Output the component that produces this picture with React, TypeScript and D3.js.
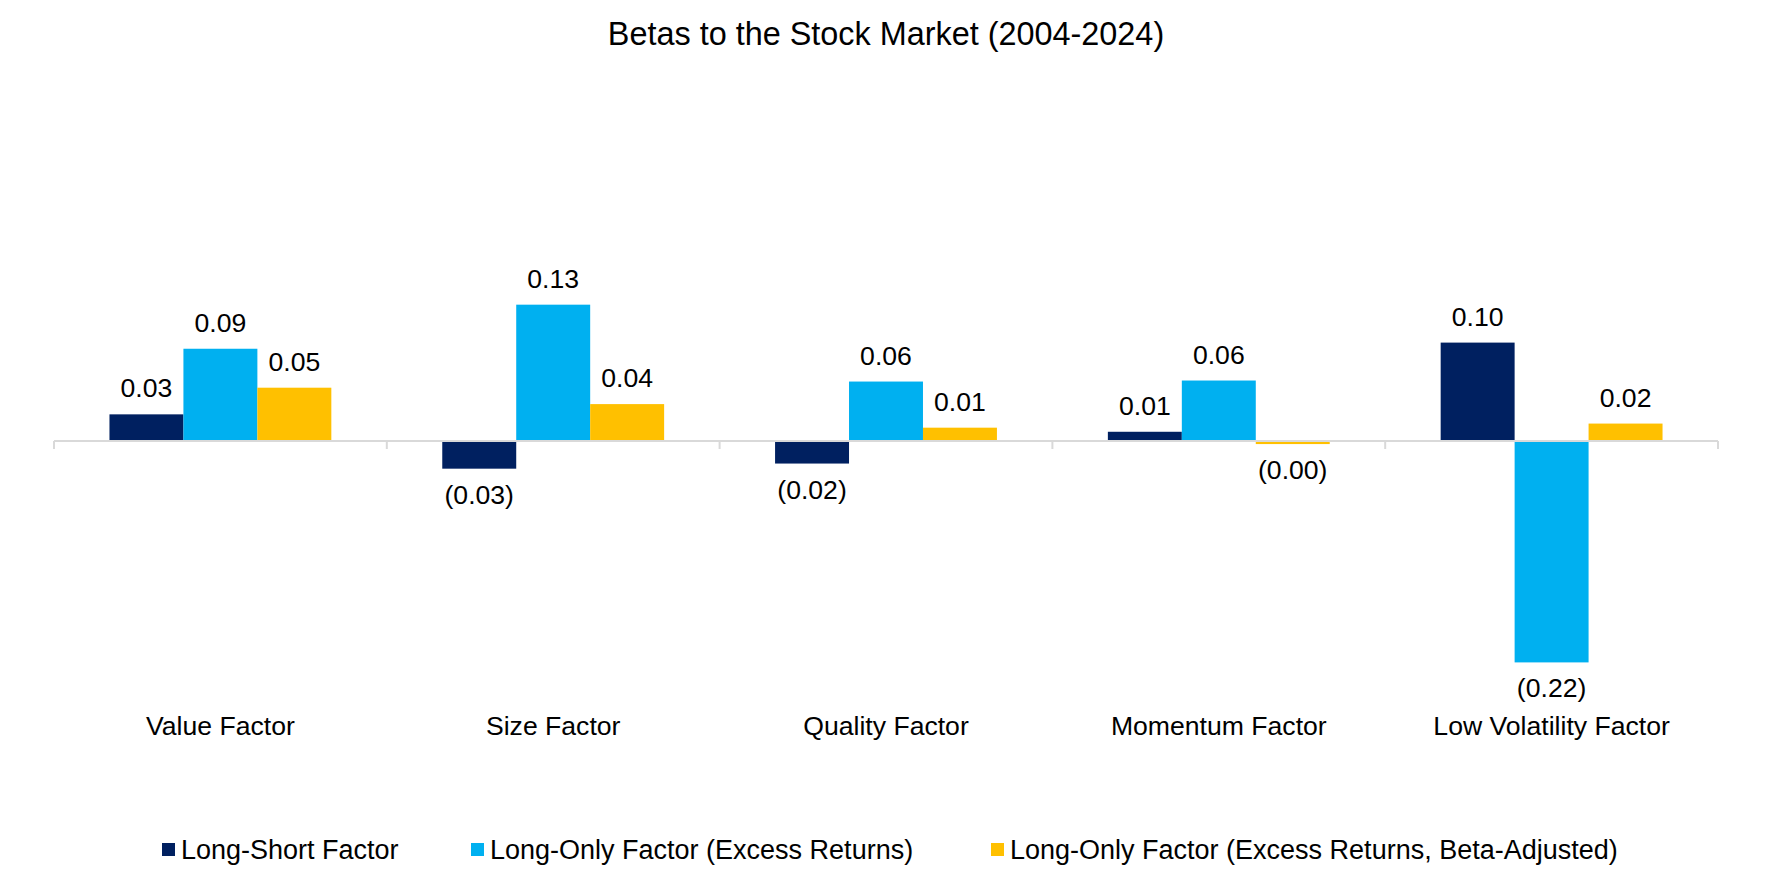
import React from "react";
import * as d3 from "d3";

const categories = ["Value Factor", "Size Factor", "Quality Factor", "Momentum Factor", "Low Volatility Factor"];
const seriesNames = [
  "Long-Short Factor",
  "Long-Only Factor (Excess Returns)",
  "Long-Only Factor (Excess Returns, Beta-Adjusted)",
];
const longShort = [0.026, -0.027, -0.022, 0.009, 0.096];
const longOnly = [0.09, 0.133, 0.058, 0.059, -0.216];
const longOnlyBetaAdj = [0.052, 0.036, 0.013, -0.003, 0.017];
const seriesColors = ["#002060", "#00B0F0", "#FFC000"];
const title = "Betas to the Stock Market (2004-2024)";

const W = 1772;
const H = 886;
const FONT = "'Liberation Sans', Arial, Helvetica, sans-serif";

function fmt(v: number): string {
  const s = Math.abs(v).toFixed(2);
  return v < 0 ? `(${s})` : s;
}

export default function App() {
  const seriesValues = [longShort, longOnly, longOnlyBetaAdj];
  const x0 = d3.scaleBand<string>().domain(categories).range([54, 1718]).padding(0);
  const x1 = d3
    .scaleBand<string>()
    .domain(seriesNames)
    .range([0, x0.bandwidth()])
    .paddingInner(0)
    .paddingOuter(0.75);
  const y = d3.scaleLinear().domain([-0.25, 0.2]).range([441 + 0.25 * 1025, 441 - 0.2 * 1025]);
  const y0 = y(0);

  const boundaries = categories
    .map((c) => x0(c) as number)
    .concat([(x0(categories[categories.length - 1]) as number) + x0.bandwidth()]);

  const legendX = [162, 471, 991];

  return (
    <svg
      width={W}
      height={H}
      style={{ position: "absolute", left: 0, top: 0, display: "block", background: "#fff" }}
      fontFamily={FONT}
    >
      <rect x={0} y={0} width={W} height={H} fill="#fff" />
      <text x={W / 2} y={45} textAnchor="middle" fontSize={32.4} fill="#000">
        {title}
      </text>

      {categories.map((cat, ci) => (
        <g key={cat}>
          {seriesNames.map((s, si) => {
            const v = seriesValues[si][ci];
            const bx = (x0(cat) as number) + (x1(s) as number);
            const bw = x1.bandwidth();
            const top = Math.min(y(v), y0);
            const h = Math.abs(y(v) - y0);
            const labelY = v >= 0 ? y(v) - 17 : y(v) + 35;
            return (
              <g key={s}>
                <rect x={bx} y={top} width={bw} height={h} fill={seriesColors[si]} />
                <text x={bx + bw / 2} y={labelY} textAnchor="middle" fontSize={26.6} fill="#000">
                  {fmt(v)}
                </text>
              </g>
            );
          })}
          <text
            x={(x0(cat) as number) + x0.bandwidth() / 2}
            y={735}
            textAnchor="middle"
            fontSize={26.6}
            fill="#000"
          >
            {cat}
          </text>
        </g>
      ))}

      <line x1={54} x2={1718} y1={y0} y2={y0} stroke="#D9D9D9" strokeWidth={2} />
      {boundaries.map((bx, i) => (
        <line key={i} x1={bx} x2={bx} y1={y0} y2={y0 + 8} stroke="#D9D9D9" strokeWidth={2} />
      ))}

      {seriesNames.map((s, i) => (
        <g key={s}>
          <rect x={legendX[i]} y={843} width={13} height={13} fill={seriesColors[i]} />
          <text x={legendX[i] + 19} y={859} fontSize={27} fill="#000">
            {s}
          </text>
        </g>
      ))}
    </svg>
  );
}
